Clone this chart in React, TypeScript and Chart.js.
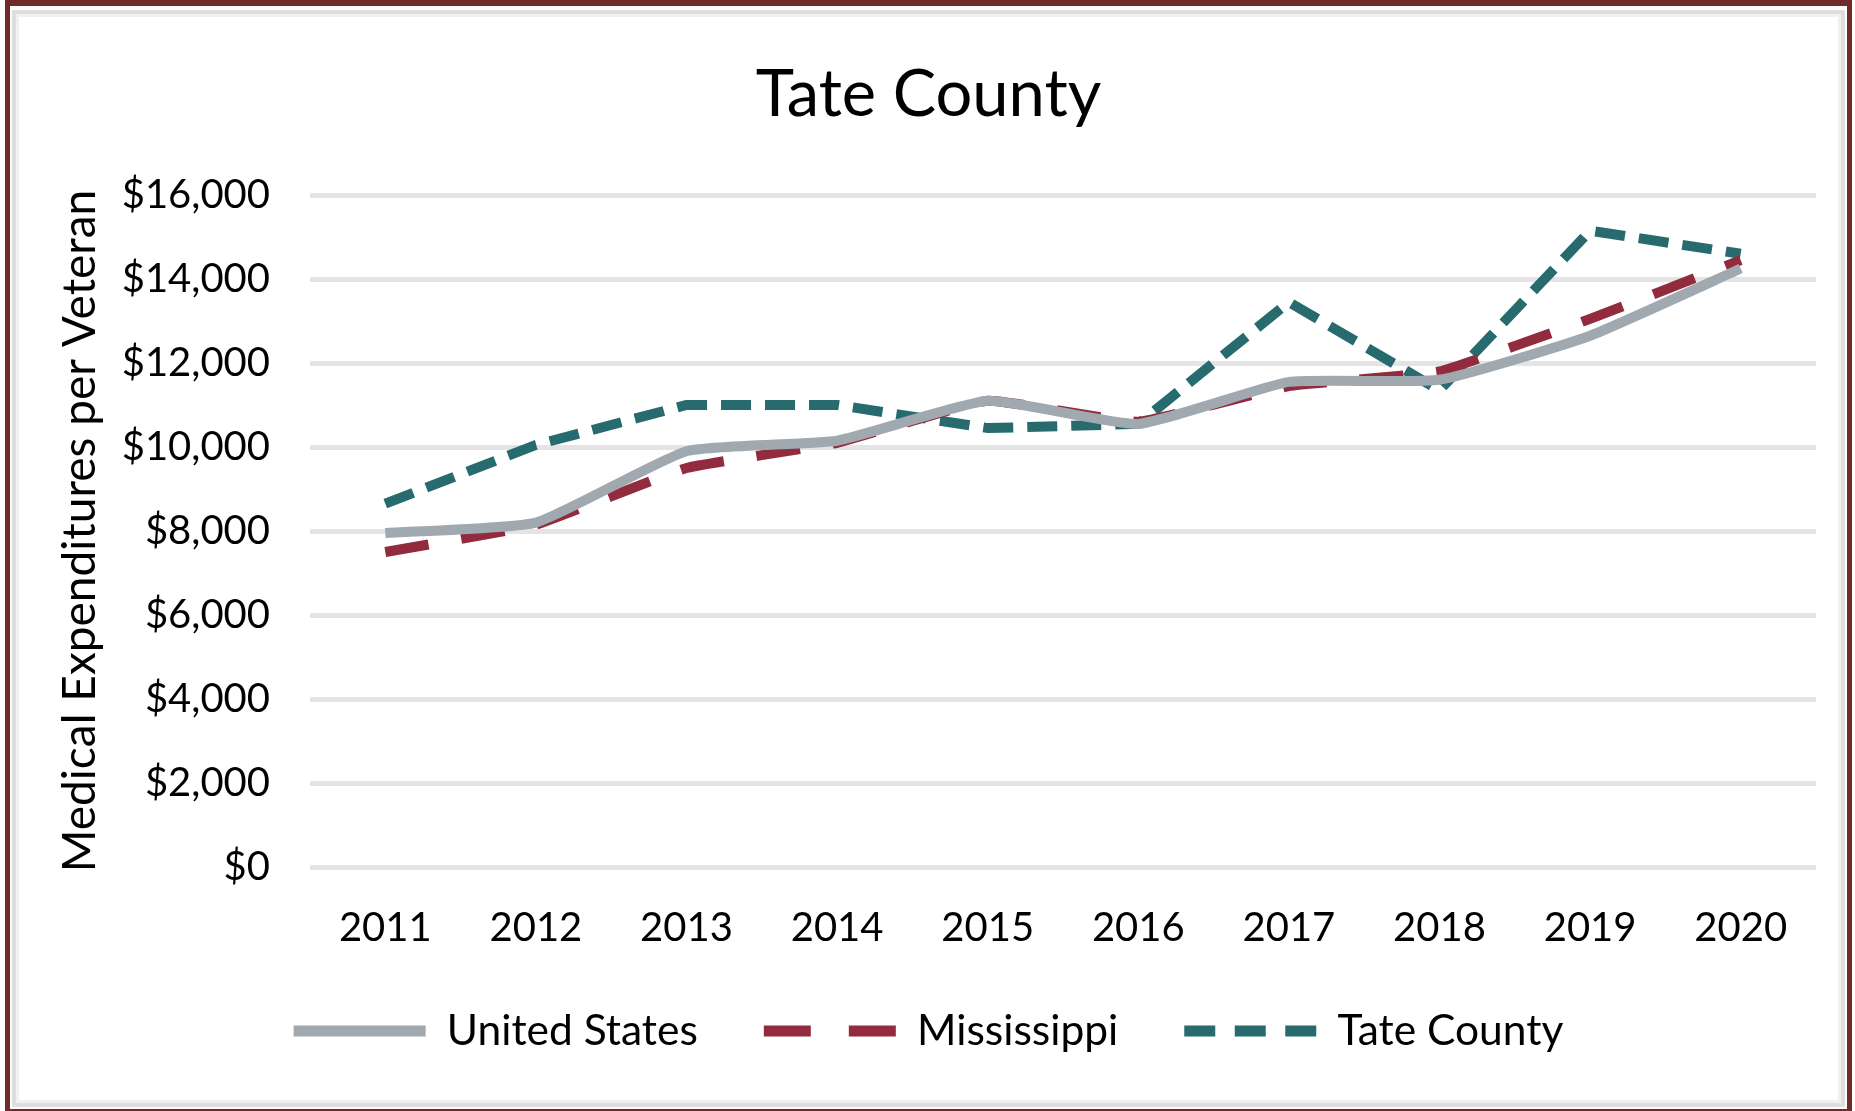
import React, { useEffect, useRef } from "react";
import { Chart, registerables } from "chart.js";

Chart.register(...registerables);

const years = ["2011", "2012", "2013", "2014", "2015", "2016", "2017", "2018", "2019", "2020"];
const unitedStates = [7950, 8200, 9900, 10150, 11100, 10550, 11550, 11600, 12650, 14250];
const mississippi = [7500, 8150, 9500, 10100, 11100, 10600, 11450, 11800, 13050, 14450];
const tateCounty = [8650, 10050, 11000, 11000, 10450, 10550, 13450, 11350, 15150, 14600];
const yTickLabels = ["$0", "$2,000", "$4,000", "$6,000", "$8,000", "$10,000", "$12,000", "$14,000", "$16,000"];

const W = 1855;
const H = 1111;
const FONT = "Lato";
const legendDashes = [[], [47, 38], [31, 19.5]];

export default function App() {
  const ref = useRef<HTMLCanvasElement | null>(null);

  useEffect(() => {
    if (!ref.current) return;
    const chart = new Chart(ref.current, {
      type: "line",
      data: {
        labels: years,
        datasets: [
          {
            label: "United States",
            data: unitedStates,
            borderColor: "#A0A8B0",
            backgroundColor: "#A0A8B0",
            borderWidth: 10,
            tension: 0.15,
            pointRadius: 0,
            borderCapStyle: "butt",
            borderJoinStyle: "round",
          },
          {
            label: "Mississippi",
            data: mississippi,
            borderColor: "#922B3E",
            backgroundColor: "#922B3E",
            borderWidth: 10,
            borderDash: [44, 33],
            tension: 0.1,
            pointRadius: 0,
            borderCapStyle: "butt",
          },
          {
            label: "Tate County",
            data: tateCounty,
            borderColor: "#276B6E",
            backgroundColor: "#276B6E",
            borderWidth: 10,
            borderDash: [30, 14],
            tension: 0,
            pointRadius: 0,
            borderCapStyle: "butt",
          },
        ],
      },
      options: {
        responsive: false,
        animation: false,
        layout: { padding: { left: 31, right: 29, top: 0, bottom: 48.75 } },
        plugins: {
          title: {
            display: true,
            text: "Tate County",
            color: "#000",
            font: { family: FONT, size: 65, weight: "normal" },
            padding: { top: 56, bottom: 61 },
          },
          legend: {
            display: true,
            position: "bottom",
            labels: {
              usePointStyle: true,
              pointStyle: "line",
              pointStyleWidth: 132,
              padding: 66,
              color: "#000",
              font: { family: FONT, size: 42.5 },
              generateLabels: (c: any) => {
                const items = Chart.defaults.plugins.legend.labels.generateLabels(c);
                return items.map((it: any, i: number) => {
                  const ds: any = c.data.datasets[it.datasetIndex];
                  return {
                    ...it,
                    pointStyle: "line",
                    strokeStyle: ds.borderColor,
                    fillStyle: ds.borderColor,
                    lineWidth: 11,
                    lineDash: legendDashes[i],
                    lineCap: "butt",
                  };
                });
              },
            },
          },
          tooltip: { enabled: false },
        },
        scales: {
          x: {
            offset: true,
            grid: { display: false, drawTicks: false },
            border: { display: false },
            ticks: {
              color: "#000",
              padding: 37,
              font: { family: FONT, size: 40 },
              maxRotation: 0,
            },
            afterFit: (s: any) => {
              s.height = 76.75;
            },
          },
          y: {
            min: 0,
            max: 16000,
            grid: { color: "#E4E4E4", lineWidth: 5, drawTicks: false },
            border: { display: false },
            ticks: {
              stepSize: 2000,
              color: "#000",
              padding: 40,
              font: { family: FONT, size: 40 },
              callback: (_v: any, i: number) => yTickLabels[i],
            },
            title: {
              display: true,
              text: "Medical Expenditures per Veteran",
              color: "#000",
              font: { family: FONT, size: 46 },
              padding: { top: 21.4, bottom: 0 },
            },
            afterFit: (s: any) => {
              s.width = 279;
            },
          },
          y2: {
            position: "right",
            display: true,
            grid: { drawOnChartArea: false, drawTicks: false },
            border: { display: false },
            ticks: { display: false },
            afterFit: (s: any) => {
              s.width = 10;
            },
          },
        },
      },
    });
    return () => chart.destroy();
  }, []);

  return (
    <div style={{ position: "fixed", left: 0, top: 0, width: W, height: H, background: "#fff", overflow: "hidden" }}>
      <canvas ref={ref} width={W} height={H} style={{ position: "absolute", left: 0, top: 0, width: W, height: H }} />
      <div
        style={{
          position: "absolute",
          left: 12,
          top: 10,
          width: 1833,
          height: 1097,
          boxSizing: "border-box",
          border: "4px solid #DEDEDE",
          boxShadow: "inset 0 0 0 3px #F1F1F1",
          pointerEvents: "none",
        }}
      />
      <div
        style={{
          position: "absolute",
          left: 5,
          top: 0,
          width: 1847,
          height: 1111,
          boxSizing: "border-box",
          borderStyle: "solid",
          borderColor: "#702A2A",
          borderWidth: "6px 5px 2px 5px",
          pointerEvents: "none",
        }}
      />
    </div>
  );
}
